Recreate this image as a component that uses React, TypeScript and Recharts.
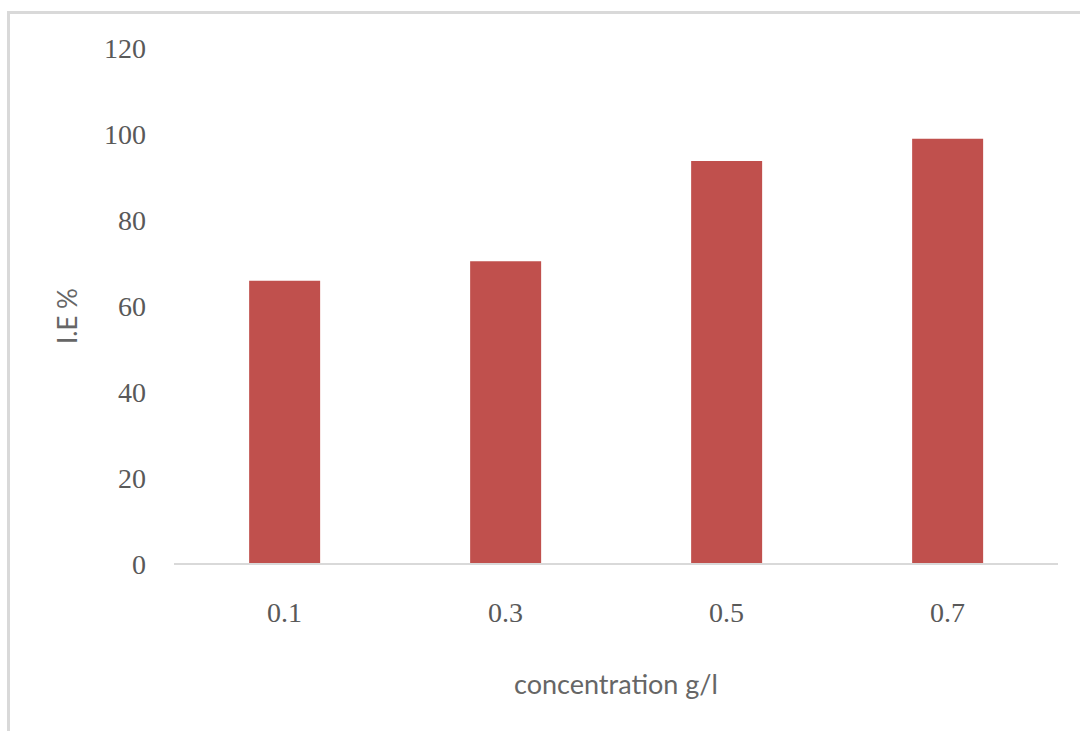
import { Bar, BarChart, XAxis, YAxis } from "recharts";

// inhibition efficiency per concentration
const concentrations = ["0.1", "0.3", "0.5", "0.7"];
const efficiency = [65.9, 70.4, 93.7, 98.9];
const yTicks = [0, 20, 40, 60, 80, 100, 120];

const data = concentrations.map((c, i) => ({ conc: c, ie: efficiency[i] }));

const tickFont = { fontFamily: "'Liberation Serif', serif", fontSize: 28, fill: "#595959" };
const titleFont = "Lato, 'Open Sans', sans-serif";

export default function App() {
  return (
    <div
      style={{
        position: "absolute",
        left: 7,
        top: 11,
        width: 1073,
        height: 720,
        borderTop: "3px solid #d9d9d9",
        borderLeft: "3px solid #d9d9d9",
        background: "#fff",
      }}
    >
      <BarChart
        width={1070}
        height={717}
        data={data}
        margin={{ top: 34, right: 22, bottom: 0, left: 84 }}
        barCategoryGap="34%"
      >
        <XAxis
          dataKey="conc"
          height={167}
          axisLine={{ stroke: "#d9d9d9", strokeWidth: 2 }}
          tickLine={false}
          tickMargin={32}
          tick={tickFont}
          label={(props: any) => {
            const vb = props.viewBox;
            return (
              <text
                x={vb.x + vb.width / 2}
                y={vb.y + 130}
                textAnchor="middle"
                fontFamily={titleFont}
                fontSize={27}
                fill="#666"
              >
                concentration g/l
              </text>
            );
          }}
        />
        <YAxis
          width={80}
          domain={[0, 120]}
          ticks={yTicks}
          axisLine={false}
          tickLine={false}
          tickMargin={22}
          tick={tickFont}
          label={(props: any) => {
            const vb = props.viewBox;
            const cx = vb.x - 26;
            const cy = vb.y + vb.height / 2 + 10;
            return (
              <text
                x={cx}
                y={cy}
                dy="0.35em"
                textAnchor="middle"
                transform={`rotate(-90 ${cx} ${cy})`}
                fontFamily={titleFont}
                fontSize={26}
                fill="#666"
              >
                I.E %
              </text>
            );
          }}
        />
        <Bar dataKey="ie" fill="#c0504d" isAnimationActive={false} />
      </BarChart>
    </div>
  );
}
